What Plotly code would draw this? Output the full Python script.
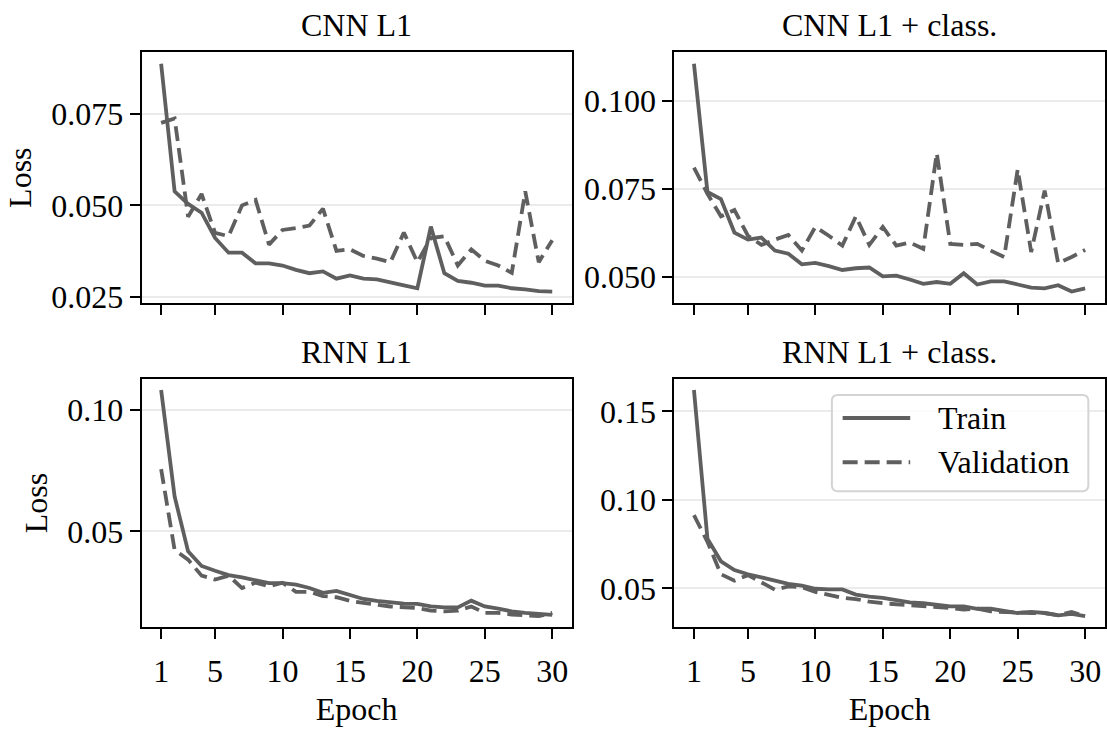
import plotly.graph_objects as go

epochs = list(range(1, 31))

cnn_train = [0.0886, 0.0538, 0.0504, 0.0480, 0.0411, 0.0371, 0.0371, 0.0342, 0.0342, 0.0336,
             0.0324, 0.0315, 0.0320, 0.0300, 0.0309, 0.0300, 0.0298, 0.0291, 0.0282, 0.0274,
             0.0442, 0.0315, 0.0294, 0.0289, 0.0281, 0.0281, 0.0274, 0.0271, 0.0266, 0.0265]
cnn_val = [0.0725, 0.0737, 0.0469, 0.0531, 0.0425, 0.0416, 0.0500, 0.0515, 0.0393, 0.0433,
           0.0438, 0.0445, 0.0491, 0.0376, 0.0380, 0.0362, 0.0355, 0.0345, 0.0426, 0.0345,
           0.0411, 0.0416, 0.0336, 0.0380, 0.0349, 0.0336, 0.0316, 0.0538, 0.0345, 0.0405]

cnnc_train = [0.1104, 0.0741, 0.0721, 0.0626, 0.0606, 0.0612, 0.0575, 0.0566, 0.0536, 0.0540,
              0.0531, 0.0520, 0.0525, 0.0527, 0.0502, 0.0504, 0.0493, 0.0481, 0.0486, 0.0481,
              0.0511, 0.0479, 0.0488, 0.0488, 0.0479, 0.0470, 0.0468, 0.0477, 0.0459, 0.0468]
cnnc_val = [0.0810, 0.0736, 0.0672, 0.0690, 0.0617, 0.0591, 0.0606, 0.0619, 0.0575, 0.0642,
            0.0617, 0.0589, 0.0672, 0.0591, 0.0642, 0.0589, 0.0598, 0.0580, 0.0851, 0.0594,
            0.0591, 0.0594, 0.0575, 0.0557, 0.0805, 0.0571, 0.0745, 0.0539, 0.0557, 0.0577]

rnn_train = [0.1083, 0.0644, 0.0418, 0.0358, 0.0338, 0.0320, 0.0311, 0.0298, 0.0287, 0.0287,
             0.0281, 0.0267, 0.0247, 0.0255, 0.0238, 0.0222, 0.0214, 0.0207, 0.0203, 0.0202,
             0.0191, 0.0187, 0.0187, 0.0215, 0.0191, 0.0182, 0.0171, 0.0165, 0.0161, 0.0156]
rnn_val = [0.0757, 0.0424, 0.0384, 0.0318, 0.0302, 0.0318, 0.0267, 0.0289, 0.0274, 0.0289,
           0.0251, 0.0251, 0.0234, 0.0229, 0.0214, 0.0205, 0.0198, 0.0191, 0.0187, 0.0185,
           0.0174, 0.0171, 0.0174, 0.0191, 0.0165, 0.0165, 0.0158, 0.0154, 0.0151, 0.0165]

rnnc_train = [0.1621, 0.0781, 0.0653, 0.0604, 0.0580, 0.0562, 0.0544, 0.0526, 0.0516, 0.0498,
              0.0494, 0.0494, 0.0465, 0.0453, 0.0447, 0.0434, 0.0421, 0.0416, 0.0407, 0.0398,
              0.0398, 0.0385, 0.0385, 0.0374, 0.0361, 0.0367, 0.0361, 0.0348, 0.0356, 0.0343]
rnnc_val = [0.0914, 0.0763, 0.0580, 0.0544, 0.0575, 0.0535, 0.0493, 0.0511, 0.0507, 0.0480,
            0.0462, 0.0447, 0.0440, 0.0425, 0.0416, 0.0411, 0.0403, 0.0398, 0.0392, 0.0389,
            0.0380, 0.0385, 0.0370, 0.0367, 0.0361, 0.0361, 0.0361, 0.0348, 0.0367, 0.0343]

titles = ["CNN L1", "CNN L1 + class.", "RNN L1", "RNN L1 + class."]
x_ticks = [1, 5, 10, 15, 20, 25, 30]
y_ticks = [[0.025, 0.050, 0.075], [0.050, 0.075, 0.100], [0.05, 0.10], [0.05, 0.10, 0.15]]
y_fmt = [".3f", ".3f", ".2f", ".2f"]
legend_labels = ["Train", "Validation"]

series = [(cnn_train, cnn_val), (cnnc_train, cnnc_val), (rnn_train, rnn_val), (rnnc_train, rnnc_val)]

W, H = 1107, 729
FONT = "Liberation Serif"
FS = 32
COLOR = "#5f5f5f"
LW = 3.8
DASH = "15px,7px"

# panel pixel boxes
xdoms = [(141.7 / W, 572.3 / W), (675.0 / W, 1105.7 / W)]
ydoms = [(1 - 308.0 / H, 1 - 53.3 / H), (1 - 638.0 / H, 1 - 385.0 / H)]

fig = go.Figure()
layout = dict(
    width=W, height=H,
    margin=dict(l=0, r=0, t=0, b=0),
    paper_bgcolor="white", plot_bgcolor="white",
    font=dict(family=FONT, size=FS, color="black"),
    showlegend=False,
)

annotations = []
for i, (tr, va) in enumerate(series):
    row, col = divmod(i, 2)
    n = i + 1
    xa = "x" if n == 1 else f"x{n}"
    ya = "y" if n == 1 else f"y{n}"
    fig.add_trace(go.Scatter(x=epochs, y=tr, mode="lines", name=legend_labels[0],
                             line=dict(color=COLOR, width=LW), xaxis=xa, yaxis=ya))
    fig.add_trace(go.Scatter(x=epochs, y=va, mode="lines", name=legend_labels[1],
                             line=dict(color=COLOR, width=LW, dash=DASH), xaxis=xa, yaxis=ya))
    lo = min(min(tr), min(va))
    hi = max(max(tr), max(va))
    pad = (hi - lo) * 0.05
    key_x = "xaxis" if n == 1 else f"xaxis{n}"
    key_y = "yaxis" if n == 1 else f"yaxis{n}"
    layout[key_x] = dict(
        domain=list(xdoms[col]), anchor=ya, range=[1 - 29 * 0.05, 30 + 29 * 0.05],
        tickvals=x_ticks, showticklabels=(row == 1), ticks="outside", ticklen=10,
        tickwidth=2, tickcolor="black", showline=True, linecolor="black", linewidth=2,
        mirror=True, showgrid=False, zeroline=False, ticklabelstandoff=4,
        tickfont=dict(family=FONT, size=FS, color="black"),
    )
    if row == 1:
        layout[key_x]["title"] = dict(text="Epoch", font=dict(family=FONT, size=FS), standoff=10)
    layout[key_y] = dict(
        domain=list(ydoms[row]), anchor=xa, range=[lo - pad, hi + pad],
        tickvals=y_ticks[i], tickformat=y_fmt[i], ticks="outside", ticklen=10,
        tickwidth=2, tickcolor="black", showline=True, linecolor="black", linewidth=2,
        mirror=True, showgrid=True, gridcolor="#ebebeb", gridwidth=2, zeroline=False,
        tickfont=dict(family=FONT, size=FS, color="black"),
    )
    if col == 0:
        layout[key_y]["title"] = dict(text="Loss", font=dict(family=FONT, size=FS), standoff=10)
    dref = xa + " domain"
    yref = ya + " domain"
    annotations.append(dict(text=titles[i], x=0.5, y=1, xref=dref, yref=yref,
                            xanchor="center", yanchor="bottom", yshift=7, showarrow=False,
                            font=dict(family=FONT, size=FS, color="black")))

# legend drawn in last panel (rounded frame)
x0, x1, y0, y1 = 0.366, 0.962, 0.548, 0.934
rx, ry = 0.014, 0.024
frame_path = (f"M {x0+rx},{y0} L {x1-rx},{y0} Q {x1},{y0} {x1},{y0+ry} "
              f"L {x1},{y1-ry} Q {x1},{y1} {x1-rx},{y1} "
              f"L {x0+rx},{y1} Q {x0},{y1} {x0},{y1-ry} "
              f"L {x0},{y0+ry} Q {x0},{y0} {x0+rx},{y0} Z")
shapes = [
    dict(type="path", xref="x4 domain", yref="y4 domain", path=frame_path,
         line=dict(color="#d4d4d4", width=2), fillcolor="rgba(255,255,255,0.8)", layer="above"),
    dict(type="line", xref="x4 domain", yref="y4 domain", x0=0.391, x1=0.548, y0=0.842, y1=0.842,
         line=dict(color=COLOR, width=LW), layer="above"),
    dict(type="line", xref="x4 domain", yref="y4 domain", x0=0.391, x1=0.548, y0=0.664, y1=0.664,
         line=dict(color=COLOR, width=LW, dash=DASH), layer="above"),
]
for txt, yy in zip(legend_labels, [0.842, 0.664]):
    annotations.append(dict(text=txt, x=0.607, y=yy, xref="x4 domain", yref="y4 domain",
                            xanchor="left", yanchor="middle", showarrow=False,
                            font=dict(family=FONT, size=FS, color="black")))

layout["annotations"] = annotations
layout["shapes"] = shapes
fig.update_layout(**layout)
fig.write_html("out.html")
